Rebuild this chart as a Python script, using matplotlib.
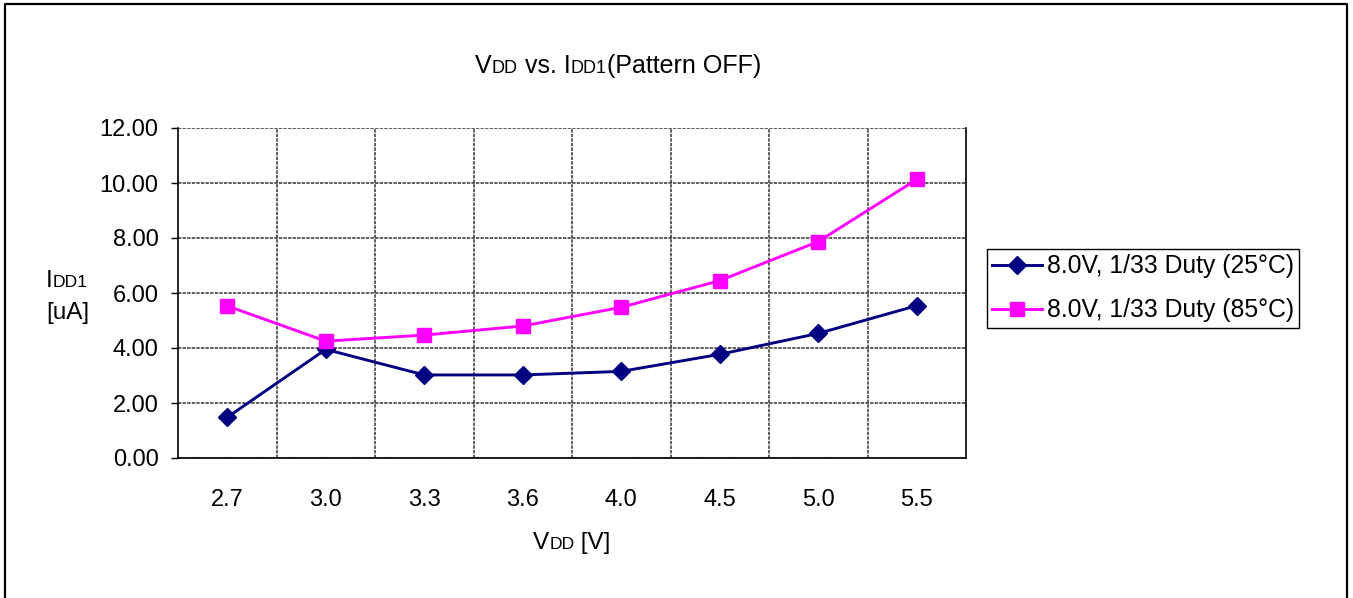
import matplotlib
matplotlib.use('Agg')
import matplotlib.pyplot as plt
from matplotlib.offsetbox import TextArea, HPacker, VPacker, AnnotationBbox
from matplotlib.lines import Line2D
from matplotlib.ticker import FixedLocator

# ---- data ----
categories = ['2.7', '3.0', '3.3', '3.6', '4.0', '4.5', '5.0', '5.5']
idd_25c = [1.48, 3.95, 3.02, 3.02, 3.15, 3.77, 4.53, 5.54]
idd_85c = [5.53, 4.25, 4.47, 4.80, 5.48, 6.45, 7.87, 10.13]
series_labels = ['8.0V, 1/33 Duty (25°C)', '8.0V, 1/33 Duty (85°C)']
yticks = [0, 2, 4, 6, 8, 10, 12]

W, H = 1353, 598
plt.rcParams['font.family'] = ['Liberation Sans', 'DejaVu Sans']
fig = plt.figure(figsize=(W / 100, H / 100), dpi=100)

ax = fig.add_axes([178 / W, 1 - 458 / H, (966 - 178) / W, (458 - 128) / H])
xpos = list(range(len(categories)))
ax.plot(xpos, idd_25c, color='#000080', lw=2.1, marker='D', ms=9,
        label=series_labels[0], zorder=3)
ax.plot(xpos, idd_85c, color='#FF00FF', lw=2.1, marker='s', ms=10,
        label=series_labels[1], zorder=3)

ax.set_xlim(-0.5, len(categories) - 0.5)
ax.set_ylim(0, 12)
ax.set_xticks(xpos)
ax.set_xticklabels(categories)
ax.xaxis.set_minor_locator(FixedLocator([i + 0.5 for i in range(len(categories) - 1)]))
ax.tick_params(axis='x', which='both', length=0, pad=22, labelsize=17)
ax.set_yticks(yticks)
ax.set_yticklabels([f'{v:.2f}' for v in yticks])
ax.tick_params(axis='y', length=5, width=1, direction='out', pad=9, labelsize=17)

dash = (0, (2.2, 0.8))
ax.grid(axis='x', which='minor', ls=dash, color='#333333', lw=1.1)
ax.grid(axis='y', which='major', ls=dash, color='#333333', lw=1.1)
ax.set_axisbelow(True)
ax.spines['top'].set_visible(False)
for s in ['left', 'bottom', 'right']:
    ax.spines[s].set_linewidth(1.2)
    ax.spines[s].set_color('black')

leg = ax.legend(loc='upper left', bbox_to_anchor=(987 / W, 1 - 249 / H),
                bbox_transform=fig.transFigure, borderaxespad=0,
                fontsize=17.8, frameon=True, fancybox=False, framealpha=1,
                edgecolor='black', handlelength=2.0, handletextpad=0.2,
                labelspacing=0.8, borderpad=0.22)
leg.get_frame().set_linewidth(1)


def mixed(parts, big, small):
    kids = [TextArea(t, textprops=dict(fontsize=(big if b else small), color='black'))
            for t, b in parts]
    return HPacker(children=kids, align='baseline', pad=0, sep=0)


# title
title_box = mixed([('V', True), ('DD', False), (' vs. I', True), ('DD1', False),
                   ('(Pattern OFF)', True)], 18, 13)
fig.add_artist(AnnotationBbox(title_box, (618 / W, 1 - 66 / H), xycoords='figure fraction',
                              frameon=False, box_alignment=(0.5, 0.5), pad=0))

# x label
xl_box = mixed([('V', True), ('DD', False), (' [V]', True)], 17.5, 12.6)
fig.add_artist(AnnotationBbox(xl_box, (572 / W, 1 - 543 / H), xycoords='figure fraction',
                              frameon=False, box_alignment=(0.5, 0.5), pad=0))

# y label
yl_line1 = mixed([('I', True), ('DD1', False)], 17.5, 12.6)
yl_line2 = TextArea('[uA]', textprops=dict(fontsize=17.5, color='black'))
yl_box = VPacker(children=[yl_line1, yl_line2], align='left', pad=0, sep=7)
fig.add_artist(AnnotationBbox(yl_box, (46 / W, 1 - 297 / H), xycoords='figure fraction',
                              frameon=False, box_alignment=(0.0, 0.5), pad=0))

# outer border (left, top, right)
bx0, bx1, by0 = 5 / W, 1347 / W, 1 - 3.5 / H
fig.add_artist(Line2D([bx0, bx0, bx1, bx1], [0, by0, by0, 0],
                      transform=fig.transFigure, color='black', lw=1.6))

fig.savefig('out.png', dpi=100, facecolor='white')
